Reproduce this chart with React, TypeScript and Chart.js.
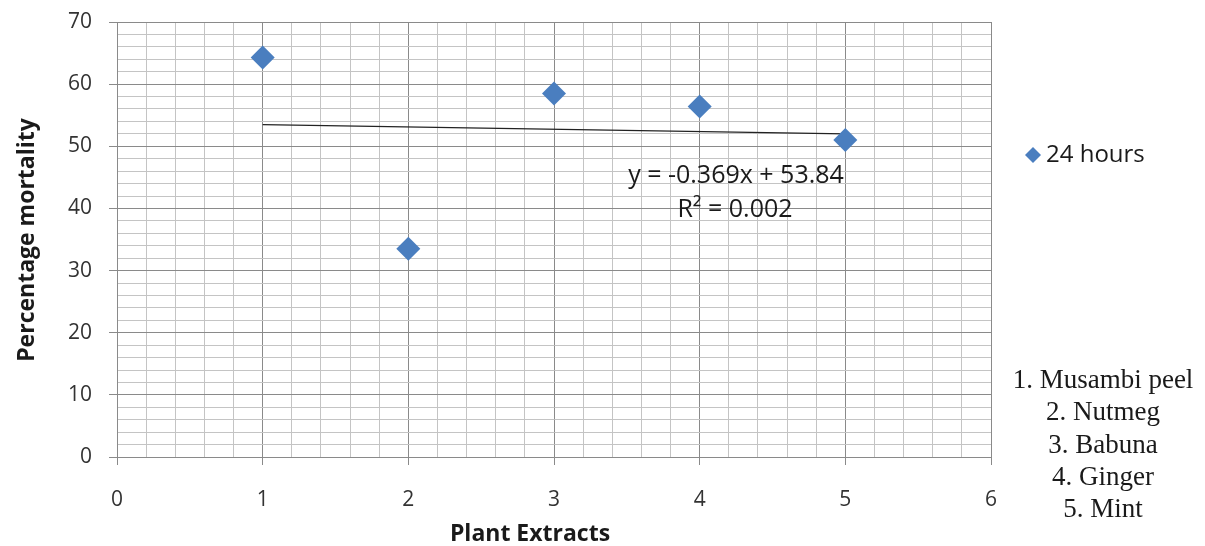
import React, { useEffect, useRef } from "react";
import { Chart, registerables } from "chart.js";

Chart.register(...registerables);

const categories = [1, 2, 3, 4, 5];
const mortality24h = [64.3, 33.5, 58.5, 56.4, 51.0];
const seriesName = "24 hours";
const trendSlope = -0.369;
const trendIntercept = 53.84;
const equationLines = ["y = -0.369x + 53.84", "R² = 0.002"];
const extractNames = ["1. Musambi peel", "2. Nutmeg", "3. Babuna", "4. Ginger", "5. Mint"];
const xTitle = "Plant Extracts";
const yTitle = "Percentage mortality";

const SANS = "'Open Sans', 'Noto Sans', sans-serif";
const MARKER = "#4a7ebf";

const isMajor = (v: number, step: number) => {
  const r = Math.round(v * 1000) / 1000;
  return Math.abs(r / step - Math.round(r / step)) < 1e-6;
};

export default function App() {
  const ref = useRef<HTMLCanvasElement>(null);
  useEffect(() => {
    if (!ref.current) return;
    const trendX = [categories[0], categories[categories.length - 1]];
    const overlay = {
      id: "overlay",
      afterDraw(chart: any) {
        const ctx = chart.ctx;
        ctx.save();
        ctx.fillStyle = "#1a1a1a";
        // axis titles
        ctx.font = `bold 23px ${SANS}`;
        ctx.textAlign = "center";
        ctx.textBaseline = "middle";
        ctx.fillText(xTitle, 530, 534);
        ctx.save();
        ctx.translate(27, 240);
        ctx.rotate(-Math.PI / 2);
        ctx.fillText(yTitle, 0, 0);
        ctx.restore();
        // equation
        ctx.font = `25px ${SANS}`;
        ctx.fillText(equationLines[0], 736, 176);
        ctx.fillText(equationLines[1], 735, 210);
        // legend
        ctx.fillStyle = MARKER;
        ctx.beginPath();
        const lx = 1033, ly = 155, r = 8;
        ctx.moveTo(lx, ly - r);
        ctx.lineTo(lx + r, ly);
        ctx.lineTo(lx, ly + r);
        ctx.lineTo(lx - r, ly);
        ctx.closePath();
        ctx.fill();
        ctx.fillStyle = "#1a1a1a";
        ctx.textAlign = "left";
        ctx.font = `24px ${SANS}`;
        ctx.fillText(seriesName, 1046, 155);
        // list of extracts
        ctx.textAlign = "center";
        ctx.font = `27px 'Liberation Serif', 'Times New Roman', serif`;
        extractNames.forEach((t, i) => {
          ctx.fillText(t, 1103, 381 + i * 32.3);
        });
        ctx.restore();
      },
    };
    const chart = new Chart(ref.current, {
      type: "scatter",
      data: {
        datasets: [
          {
            label: seriesName,
            data: categories.map((c, i) => ({ x: c, y: mortality24h[i] })),
            pointStyle: "rectRot",
            pointRadius: 12,
            pointHoverRadius: 12,
            backgroundColor: MARKER,
            borderColor: MARKER,
            borderWidth: 0,
            showLine: false,
          },
          {
            label: "trend",
            data: trendX.map((x) => ({ x, y: trendSlope * x + trendIntercept })),
            showLine: true,
            borderColor: "#222",
            borderWidth: 1.2,
            pointRadius: 0,
            fill: false,
          },
        ],
      },
      options: {
        responsive: false,
        animation: false,
        events: [],
        layout: { padding: { left: 0, top: 22, right: 214, bottom: 0 } },
        plugins: { legend: { display: false }, tooltip: { enabled: false } },
        scales: {
          x: {
            type: "linear",
            min: 0,
            max: 6,
            afterFit: (s: any) => { s.height = 89; s.paddingLeft = 0; s.paddingRight = 0; },
            afterBuildTicks: (s: any) => {
              const t = [];
              for (let i = 0; i <= 30; i++) t.push({ value: i / 5 });
              s.ticks = t;
            },
            grid: {
              color: (c: any) => (isMajor(c.tick.value, 1) ? "#8a8a8a" : "#c4c4c4"),
              tickColor: (c: any) => (isMajor(c.tick.value, 1) ? "#8a8a8a" : "rgba(0,0,0,0)"),
              tickLength: 8,
              lineWidth: 1,
            },
            border: { color: "#8a8a8a" },
            ticks: {
              autoSkip: false,
              maxRotation: 0,
              padding: 22,
              color: "#333",
              font: { family: SANS, size: 21 },
              callback: (v: any) => (isMajor(Number(v), 1) ? String(Math.round(Number(v))) : ""),
            },
          },
          y: {
            type: "linear",
            min: 0,
            max: 70,
            afterFit: (s: any) => { s.width = 117; s.paddingTop = 0; s.paddingBottom = 0; },
            afterBuildTicks: (s: any) => {
              const t = [];
              for (let i = 0; i <= 35; i++) t.push({ value: i * 2 });
              s.ticks = t;
            },
            grid: {
              color: (c: any) => (isMajor(c.tick.value, 10) ? "#8a8a8a" : "#c4c4c4"),
              tickColor: (c: any) => (isMajor(c.tick.value, 10) ? "#8a8a8a" : "rgba(0,0,0,0)"),
              tickLength: 8,
              lineWidth: 1,
            },
            border: { color: "#8a8a8a" },
            ticks: {
              autoSkip: false,
              padding: 17,
              color: "#333",
              font: { family: SANS, size: 21 },
              callback: (v: any) => (isMajor(Number(v), 10) ? String(Math.round(Number(v))) : ""),
            },
          },
        },
      },
      plugins: [overlay],
    });
    return () => chart.destroy();
  }, []);
  return (
    <div style={{ position: "absolute", left: 0, top: 0, width: 1205, height: 546, background: "#fff" }}>
      <canvas ref={ref} width={1205} height={546} style={{ width: 1205, height: 546 }} />
    </div>
  );
}
